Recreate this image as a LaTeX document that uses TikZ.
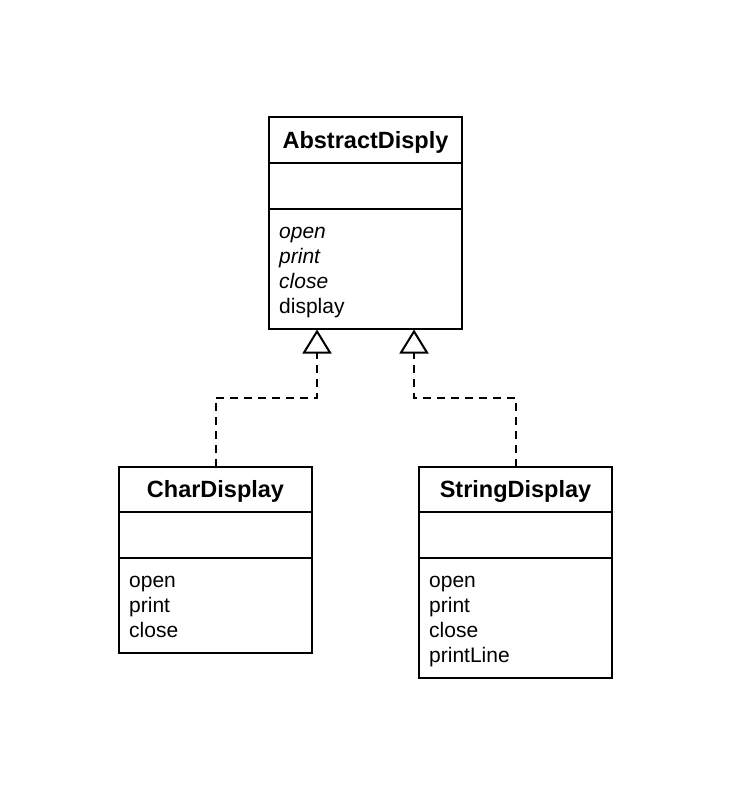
\documentclass[tikz,border=0pt]{standalone}
\usepackage{fontspec}
\setmainfont{Liberation Sans}
\usetikzlibrary{arrows.meta}
\begin{document}
\begin{tikzpicture}[x=1pt,y=-1pt,
  part/.style={draw=black, line width=2pt, fill=white, minimum width=193pt, inner sep=0pt, outer sep=0pt, anchor=north west},
  titletext/.style={anchor=base, inner sep=0pt, font=\fontsize{23.5}{28}\selectfont\bfseries},
  meth/.style={anchor=base west, inner sep=0pt, font=\fontsize{21}{25}\selectfont},
  absmeth/.style={anchor=base west, inner sep=0pt, font=\fontsize{21}{25}\selectfont\itshape},
  gen/.style={line width=2pt, dash pattern=on 8pt off 6pt, -{Triangle[open, length=24pt, width=29pt, line width=2pt]}}
]
\useasboundingbox (0,0) rectangle (731,797);
\fill[white] (0,0) rectangle (731,797);

% AbstractDisply
\node[part, minimum height=46pt] (Atitle) at (269,117) {};
\node[part, minimum height=46pt] (Aattr) at (269,163) {};
\node[part, minimum height=119.5pt] (Ameth) at (269,209) {};
\node[titletext] (AtitleT) at (365.5,148) {AbstractDisply};
\node[absmeth] (Am1) at (279,238.5) {open};
\node[absmeth] (Am2) at (279,263.5) {print};
\node[absmeth] (Am3) at (279,288.5) {close};
\node[meth] (Am4) at (279,313.5) {display};

% CharDisplay
\node[part, minimum height=45pt] (Ctitle) at (119,467) {};
\node[part, minimum height=46pt] (Cattr) at (119,512) {};
\node[part, minimum height=95pt] (Cmeth) at (119,558) {};
\node[titletext] (CtitleT) at (215.5,497.5) {CharDisplay};
\node[meth] (Cm1) at (129,587.5) {open};
\node[meth] (Cm2) at (129,612.5) {print};
\node[meth] (Cm3) at (129,637.5) {close};

% StringDisplay
\node[part, minimum height=45pt] (Stitle) at (419,467) {};
\node[part, minimum height=46pt] (Sattr) at (419,512) {};
\node[part, minimum height=120pt] (Smeth) at (419,558) {};
\node[titletext] (StitleT) at (515.5,497.5) {StringDisplay};
\node[meth] (Sm1) at (429,587.5) {open};
\node[meth] (Sm2) at (429,612.5) {print};
\node[meth] (Sm3) at (429,637.5) {close};
\node[meth] (Sm4) at (429,662.5) {printLine};

% generalization connectors
\coordinate (aL) at (317,329.5);
\coordinate (aR) at (414,329.5);
\draw[gen] (Ctitle.north) -- ++(0,-69.5) -| (aL);
\draw[gen] (Stitle.north) -- ++(0,-69.5) -| (aR);
\end{tikzpicture}
\end{document}
